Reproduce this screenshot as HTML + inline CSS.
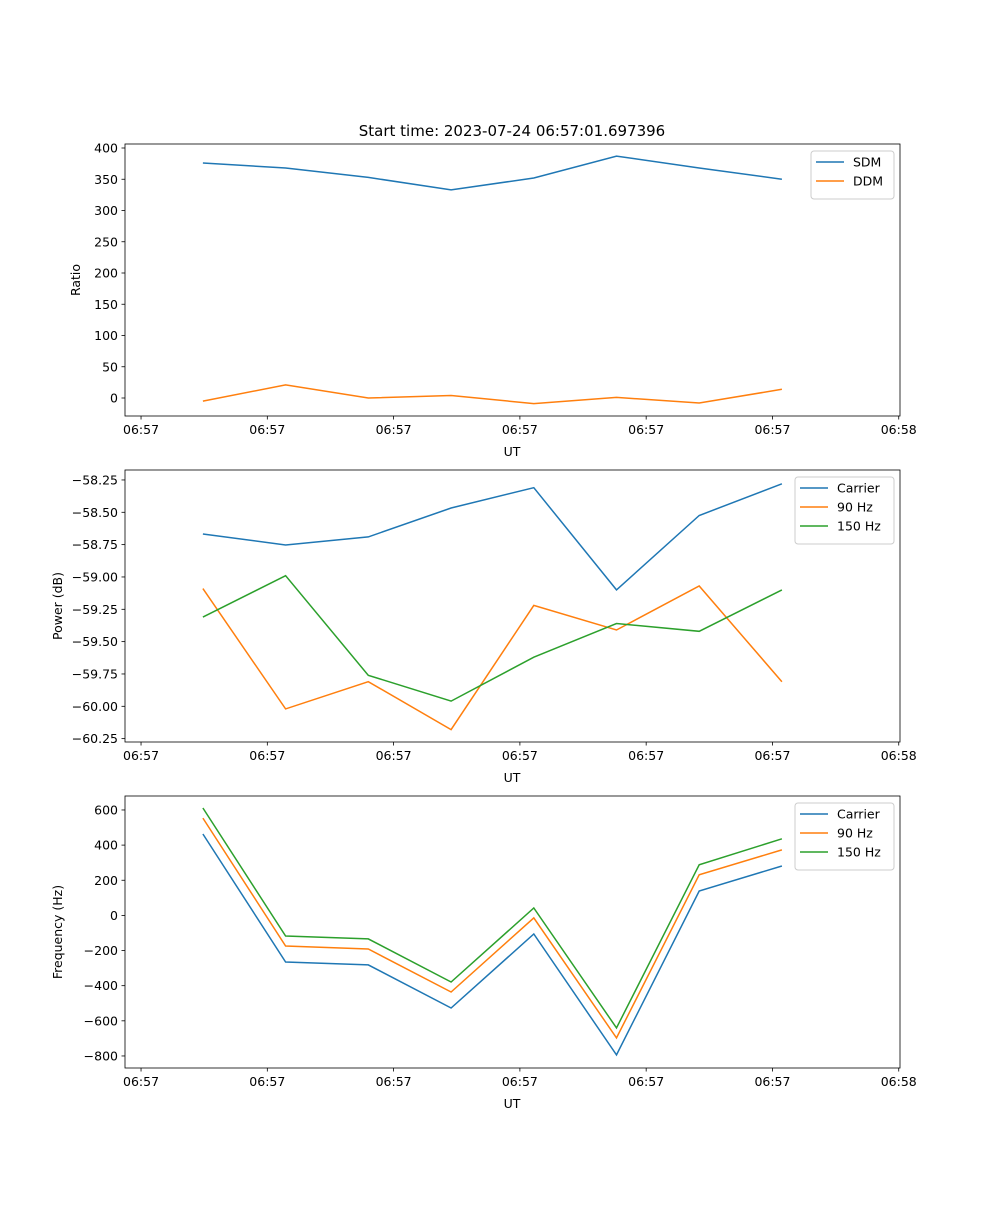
<!DOCTYPE html>
<html><head><meta charset="utf-8"><style>
body{margin:0;background:#fff}
svg text{font-family:"DejaVu Sans","Liberation Sans",sans-serif;font-size:12.5px;fill:#000}
</style></head><body>
<svg id="fig" width="1000" height="1200"></svg>
<script>
const xSeconds=[4.9,11.45,18.0,24.55,31.1,37.65,44.2,50.75];
const xTickVals=[0,10,20,30,40,50,60];
const xTickLabels=["06:57","06:57","06:57","06:57","06:57","06:57","06:58"];
const sdm=[376,368,353,333,352,387,368,350];
const ddm=[-5,21,0,4,-9,1,-8,14];
const ratioTicks=[0,50,100,150,200,250,300,350,400];
const pwrCarrier=[-58.668,-58.753,-58.69,-58.467,-58.31,-59.10,-58.525,-58.28];
const pwr90=[-59.09,-60.02,-59.81,-60.18,-59.22,-59.41,-59.07,-59.81];
const pwr150=[-59.31,-58.99,-59.76,-59.96,-59.62,-59.36,-59.42,-59.10];
const pwrTicks=[-60.25,-60.0,-59.75,-59.5,-59.25,-59.0,-58.75,-58.5,-58.25];
const frqCarrier=[463,-265,-282,-527,-106,-794,139,281];
const frq90=[554,-174,-191,-436,-14,-697,231,373];
const frq150=[611,-117,-134,-379,42,-640,288,436];
const frqTicks=[-800,-600,-400,-200,0,200,400,600];

const NS="http://www.w3.org/2000/svg";
const svg=document.getElementById('fig');
function mk(tag,attrs,parent){const e=document.createElementNS(NS,tag);for(const k in attrs)e.setAttribute(k,attrs[k]);(parent||svg).appendChild(e);return e;}
const X0=125,X1=900,xMin=-1.27,xMax=60.1;
const xs=v=>X0+(v-xMin)/(xMax-xMin)*(X1-X0);
const C=["#1f77b4","#ff7f0e","#2ca02c"];

function panel(name,top,yMin,yMax,ticks,fmt,ylabel,series,labels,legW){
  const Y0=top,Y1=top+272;
  const ys=v=>Y1-(v-yMin)/(yMax-yMin)*(Y1-Y0);
  const g=mk('g',{});
  
  
  series.forEach((s,i)=>{
    const p=mk('polyline',{points:s.map((v,j)=>xs(xSeconds[j]).toFixed(1)+','+ys(v).toFixed(1)).join(' '),fill:'none',stroke:C[i],'stroke-width':1.5},g);
    
    
  });
  const fr=mk('rect',{x:X0,y:Y0,width:X1-X0,height:Y1-Y0,fill:'none',stroke:'#000','stroke-width':0.8},g);
  
  
  xTickVals.forEach((v,i)=>{
    mk('line',{x1:xs(v),x2:xs(v),y1:Y1,y2:Y1+3.5,stroke:'#000','stroke-width':0.8},g);
    const t=mk('text',{x:xs(v),y:Y1+18,'text-anchor':'middle'},g);t.textContent=xTickLabels[i];
    
    
  });
  ticks.forEach(v=>{
    mk('line',{x1:X0,x2:X0-3.5,y1:ys(v),y2:ys(v),stroke:'#000','stroke-width':0.8},g);
    const t=mk('text',{x:X0-7,y:ys(v)+4.5,'text-anchor':'end'},g);t.textContent=fmt(v);
    
    
  });
  const xl=mk('text',{x:512,y:Y1+40,'text-anchor':'middle'},g);xl.textContent='UT';
  
  
  const lx=ylabel.length>6?62:80;
  const yl=mk('text',{x:lx,y:(Y0+Y1)/2,'text-anchor':'middle',transform:`rotate(-90 ${lx} ${(Y0+Y1)/2})`},g);yl.textContent=ylabel;
  
  
  const lg=mk('g',{},g);
  
  
  const lxL=X1-6-legW;
  mk('rect',{x:lxL,y:Y0+7,width:legW,height:10+labels.length*19,fill:'#fff',stroke:'#ccc',rx:3},lg);
  labels.forEach((l,i)=>{
    const yy=Y0+18+i*19;
    mk('line',{x1:lxL+5,x2:lxL+33,y1:yy,y2:yy,stroke:C[i],'stroke-width':1.5},lg);
    const t=mk('text',{x:lxL+42,y:yy+4.5},lg);t.textContent=l;
    
    
  });
}
const title=mk('text',{x:512,y:136,'text-anchor':'middle',style:'font-size:15px'});
title.textContent='Start time: 2023-07-24 06:57:01.697396';


panel('ratio',144,-28.8,406.4,ratioTicks,v=>String(v),'Ratio',[sdm,ddm],['SDM','DDM'],83);
panel('power',470,-60.276,-58.173,pwrTicks,v=>'\u2212'+Math.abs(v).toFixed(2),'Power (dB)',[pwrCarrier,pwr90,pwr150],['Carrier','90 Hz','150 Hz'],99);
panel('frequency',796,-868.5,679.5,frqTicks,v=>(v<0?'\u2212':'')+Math.abs(v),'Frequency (Hz)',[frqCarrier,frq90,frq150],['Carrier','90 Hz','150 Hz'],99);
</script>
</body></html>
